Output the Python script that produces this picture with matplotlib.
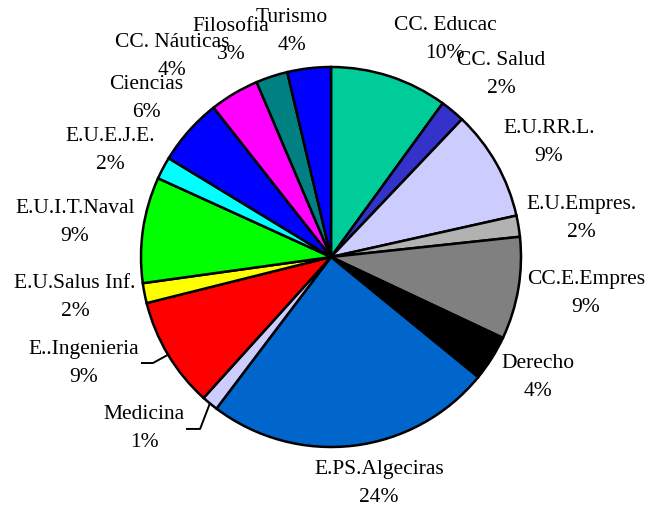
import numpy as np
import matplotlib.pyplot as plt

plt.rcParams['font.family'] = ['Liberation Serif', 'DejaVu Serif']

# slices, clockwise from 12 o'clock
centros = ["CC. Educac", "CC. Salud", "E.U.RR.L.", "E.U.Empres.", "CC.E.Empres",
           "Derecho", "E.PS.Algeciras", "Medicina", "E..Ingenieria", "E.U.Salus Inf.",
           "E.U.I.T.Naval", "E.U.E.J.E.", "Ciencias", "CC. Náuticas", "Filosofia", "Turismo"]
valores = [10.0, 2.1, 9.4, 1.8, 8.7, 3.9, 24.4, 1.4, 9.4, 1.7, 9.0, 1.9, 5.7, 4.2, 2.7, 3.7]
colores = ["#00CC99", "#3333CC", "#CCCCFF", "#B2B2B2", "#808080", "#000000", "#0066CC",
           "#CCCCFF", "#FF0000", "#FFFF00", "#00FF00", "#00FFFF", "#0000FF", "#FF00FF",
           "#008080", "#0000FF"]

# label positions (name line), in pie-radius units
pos_x = [0.600, 0.895, 1.147, 1.316, 1.342, 1.089, 0.253, -0.984, -1.300, -1.347,
         -1.347, -1.163, -0.974, -0.837, -0.526, -0.205]
pos_y = [1.226, 1.042, 0.684, 0.279, -0.111, -0.553, -1.111, -0.826, -0.484, -0.132,
         0.263, 0.637, 0.911, 1.132, 1.216, 1.268]

# leader lines: elbow and end points for the slices that have one
lineas = {"Medicina": [(-0.689, -0.905), (-0.758, -0.905)],
          "E..Ingenieria": [(-0.937, -0.558), (-0.995, -0.558)]}

W, H = 646, 506
cx, cy, R = 331, 258, 190

fig = plt.figure(figsize=(W / 100, H / 100), dpi=100)
ax = fig.add_axes([0, 0, 1, 1])

ax.pie(valores, colors=colores, startangle=90, counterclock=False, radius=1,
       wedgeprops=dict(edgecolor="black", linewidth=1.8))

total = sum(valores)
acum = np.cumsum([0] + valores[:-1])
dy = 28 / R
for i, nombre in enumerate(centros):
    pct = "%d%%" % round(valores[i] / total * 100)
    ax.text(pos_x[i], pos_y[i], nombre, ha="center", va="center", fontsize=15.5, zorder=5)
    ax.text(pos_x[i], pos_y[i] - dy, pct, ha="center", va="center", fontsize=15.5, zorder=5)
    if nombre in lineas:
        ang = np.deg2rad(90 - (acum[i] + valores[i] / 2) / total * 360)
        pts = [(np.cos(ang), np.sin(ang))] + lineas[nombre]
        xs, ys = zip(*pts)
        ax.plot(xs, ys, color="black", lw=1.4, zorder=4)

ax.set_xlim(-cx / R, (W - cx) / R)
ax.set_ylim((cy - H) / R, cy / R)
ax.set_aspect("auto")
ax.axis("off")

fig.savefig("out.png", dpi=100)
